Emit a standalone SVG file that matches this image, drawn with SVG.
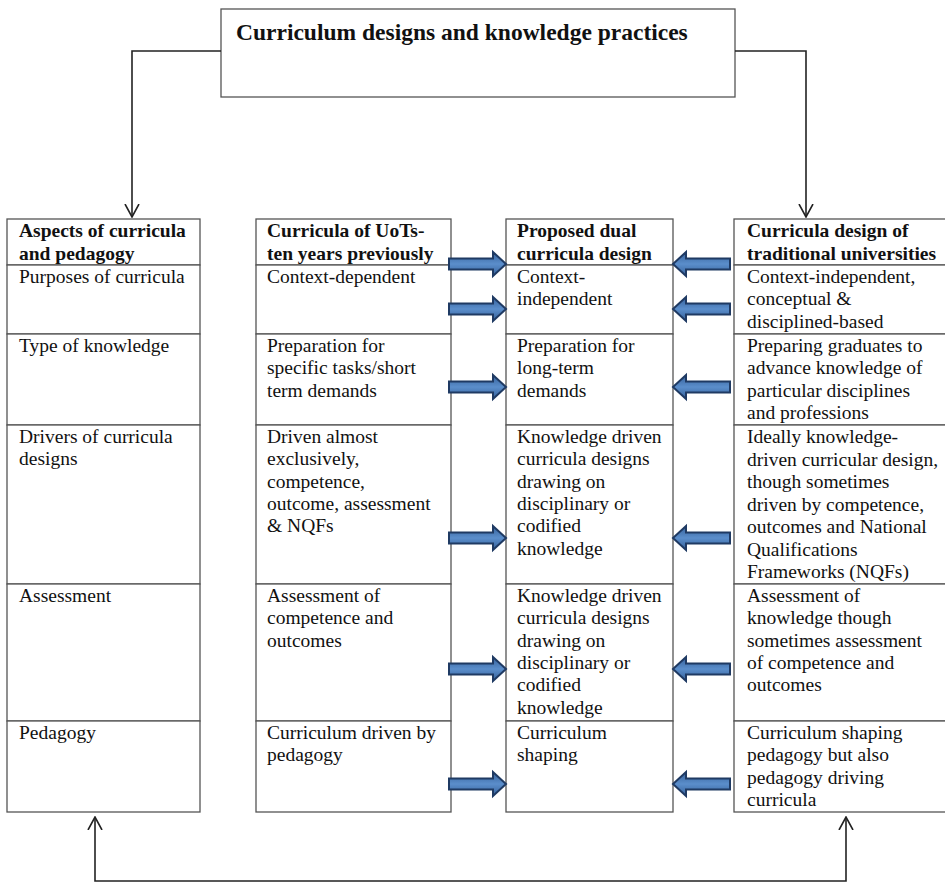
<svg xmlns="http://www.w3.org/2000/svg" width="945" height="883" viewBox="0 0 945 883">
<style>
.box{fill:#fff;stroke:#555;stroke-width:1.3}
.t{font-family:"Liberation Serif","Times New Roman",serif;font-size:19.5px;fill:#111}
.b{font-weight:bold}
.title{font-family:"Liberation Serif","Times New Roman",serif;font-size:23.5px;font-weight:bold;fill:#111}
.con{fill:none;stroke:#222;stroke-width:1.6}
.blk{fill:url(#bg);stroke:#1f3a63;stroke-width:2}
</style>
<defs>
<marker id="ah" viewBox="0 0 14 16" markerWidth="14" markerHeight="16" refX="13" refY="8" markerUnits="userSpaceOnUse" orient="auto-start-reverse">
<path d="M0,1 L13,8 L0,15" fill="none" stroke="#222" stroke-width="1.6"/>
</marker>
<linearGradient id="bg" x1="0" y1="0" x2="0" y2="1">
<stop offset="0" stop-color="#34609a"/>
<stop offset="0.5" stop-color="#5b8ecb"/>
<stop offset="1" stop-color="#34609a"/>
</linearGradient>
<path id="ra" d="M-57,-5.5 H-13 V-12 L0,0 L-13,12 V5.5 H-57 Z"/>
<path id="la" d="M57,-5.5 H13 V-12 L0,0 L13,12 V5.5 H57 Z"/>
</defs>
<rect width="945" height="883" fill="#fff"/>

<g id="title">
<rect class="box" x="221" y="9" width="514" height="88"/>
<text class="title" x="236" y="40">Curriculum designs and knowledge practices</text>
</g>

<g id="col1">
<rect class="box" x="7" y="219" width="193" height="46"/>
<rect class="box" x="7" y="265" width="193" height="69"/>
<rect class="box" x="7" y="334" width="193" height="91"/>
<rect class="box" x="7" y="425" width="193" height="159"/>
<rect class="box" x="7" y="584" width="193" height="137"/>
<rect class="box" x="7" y="721" width="193" height="91"/>
<text class="t b" x="19" y="237">Aspects of curricula<tspan x="19" dy="22.5">and pedagogy</tspan></text>
<text class="t" x="19" y="283">Purposes of curricula</text>
<text class="t" x="19" y="352">Type of knowledge</text>
<text class="t" x="19" y="443">Drivers of curricula<tspan x="19" dy="22.3">designs</tspan></text>
<text class="t" x="19" y="602">Assessment</text>
<text class="t" x="19" y="739">Pedagogy</text>
</g>

<g id="col2">
<rect class="box" x="256" y="219" width="195" height="46"/>
<rect class="box" x="256" y="265" width="195" height="69"/>
<rect class="box" x="256" y="334" width="195" height="91"/>
<rect class="box" x="256" y="425" width="195" height="159"/>
<rect class="box" x="256" y="584" width="195" height="137"/>
<rect class="box" x="256" y="721" width="195" height="91"/>
<text class="t b" x="267" y="237">Curricula of UoTs-<tspan x="267" dy="22.5">ten years previously</tspan></text>
<text class="t" x="267" y="283">Context-dependent</text>
<text class="t" x="267" y="352">Preparation for<tspan x="267" dy="22.3">specific tasks/short</tspan><tspan x="267" dy="22.3">term demands</tspan></text>
<text class="t" x="267" y="443">Driven almost<tspan x="267" dy="22.3">exclusively,</tspan><tspan x="267" dy="22.3">competence,</tspan><tspan x="267" dy="22.3">outcome, assessment</tspan><tspan x="267" dy="22.3">&amp; NQFs</tspan></text>
<text class="t" x="267" y="602">Assessment of<tspan x="267" dy="22.3">competence and</tspan><tspan x="267" dy="22.3">outcomes</tspan></text>
<text class="t" x="267" y="739">Curriculum driven by<tspan x="267" dy="22.3">pedagogy</tspan></text>
</g>

<g id="col3">
<rect class="box" x="506" y="219" width="167" height="46"/>
<rect class="box" x="506" y="265" width="167" height="69"/>
<rect class="box" x="506" y="334" width="167" height="91"/>
<rect class="box" x="506" y="425" width="167" height="159"/>
<rect class="box" x="506" y="584" width="167" height="137"/>
<rect class="box" x="506" y="721" width="167" height="91"/>
<text class="t b" x="517" y="237">Proposed dual<tspan x="517" dy="22.5">curricula design</tspan></text>
<text class="t" x="517" y="283">Context-<tspan x="517" dy="22.3">independent</tspan></text>
<text class="t" x="517" y="352">Preparation for<tspan x="517" dy="22.3">long-term</tspan><tspan x="517" dy="22.3">demands</tspan></text>
<text class="t" x="517" y="443">Knowledge driven<tspan x="517" dy="22.3">curricula designs</tspan><tspan x="517" dy="22.3">drawing on</tspan><tspan x="517" dy="22.3">disciplinary or</tspan><tspan x="517" dy="22.3">codified</tspan><tspan x="517" dy="22.3">knowledge</tspan></text>
<text class="t" x="517" y="602">Knowledge driven<tspan x="517" dy="22.3">curricula designs</tspan><tspan x="517" dy="22.3">drawing on</tspan><tspan x="517" dy="22.3">disciplinary or</tspan><tspan x="517" dy="22.3">codified</tspan><tspan x="517" dy="22.3">knowledge</tspan></text>
<text class="t" x="517" y="739">Curriculum<tspan x="517" dy="22.3">shaping</tspan></text>
</g>

<g id="col4">
<rect class="box" x="734" y="219" width="216" height="46"/>
<rect class="box" x="734" y="265" width="216" height="69"/>
<rect class="box" x="734" y="334" width="216" height="91"/>
<rect class="box" x="734" y="425" width="216" height="159"/>
<rect class="box" x="734" y="584" width="216" height="137"/>
<rect class="box" x="734" y="721" width="216" height="91"/>
<text class="t b" x="747" y="237">Curricula design of<tspan x="747" dy="22.5">traditional universities</tspan></text>
<text class="t" x="747" y="283">Context-independent,<tspan x="747" dy="22.3">conceptual &amp;</tspan><tspan x="747" dy="22.3">disciplined-based</tspan></text>
<text class="t" x="747" y="352">Preparing graduates to<tspan x="747" dy="22.3">advance knowledge of</tspan><tspan x="747" dy="22.3">particular disciplines</tspan><tspan x="747" dy="22.3">and professions</tspan></text>
<text class="t" x="747" y="443">Ideally knowledge-<tspan x="747" dy="22.5">driven curricular design,</tspan><tspan x="747" dy="22.5">though sometimes</tspan><tspan x="747" dy="22.5">driven by competence,</tspan><tspan x="747" dy="22.5">outcomes and National</tspan><tspan x="747" dy="22.5">Qualifications</tspan><tspan x="747" dy="22.5">Frameworks (NQFs)</tspan></text>
<text class="t" x="747" y="602">Assessment of<tspan x="747" dy="22.3">knowledge though</tspan><tspan x="747" dy="22.3">sometimes assessment</tspan><tspan x="747" dy="22.3">of competence and</tspan><tspan x="747" dy="22.3">outcomes</tspan></text>
<text class="t" x="747" y="739">Curriculum shaping<tspan x="747" dy="22.3">pedagogy but also</tspan><tspan x="747" dy="22.3">pedagogy driving</tspan><tspan x="747" dy="22.3">curricula</tspan></text>
</g>

<g id="connectors">
<path class="con" d="M221,51 H132 V217" marker-end="url(#ah)"/>
<path class="con" d="M735,51 H806 V217" marker-end="url(#ah)"/>
<path class="con" d="M95,817 V881 H846 V817" marker-start="url(#ah)" marker-end="url(#ah)"/>
<use href="#ra" class="blk" x="506" y="264"/>
<use href="#ra" class="blk" x="506" y="309"/>
<use href="#ra" class="blk" x="506" y="387"/>
<use href="#ra" class="blk" x="506" y="538"/>
<use href="#ra" class="blk" x="506" y="669"/>
<use href="#ra" class="blk" x="506" y="784"/>
<use href="#la" class="blk" x="673" y="264"/>
<use href="#la" class="blk" x="673" y="309"/>
<use href="#la" class="blk" x="673" y="387"/>
<use href="#la" class="blk" x="673" y="538"/>
<use href="#la" class="blk" x="673" y="669"/>
<use href="#la" class="blk" x="673" y="784"/>
</g>
</svg>
